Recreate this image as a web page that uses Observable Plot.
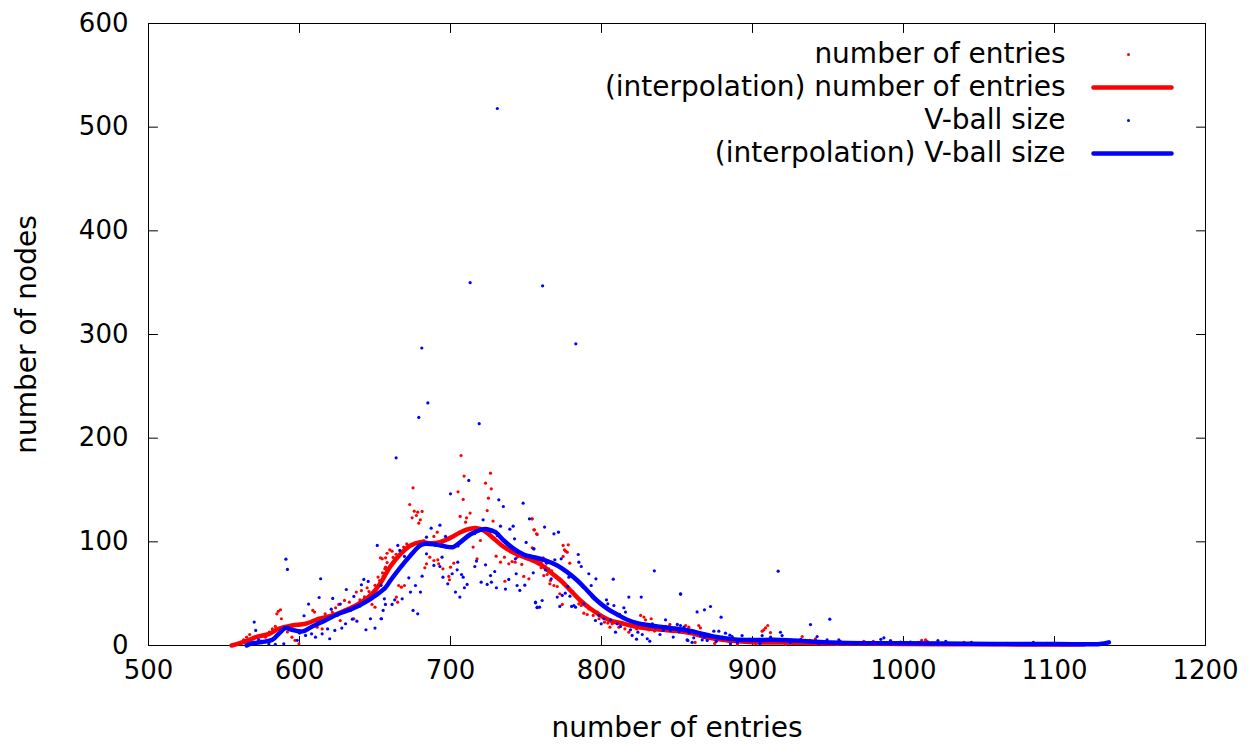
<!DOCTYPE html>
<html>
<head>
<meta charset="utf-8">
<script src="https://cdn.jsdelivr.net/npm/d3@7"></script>
<script src="https://cdn.jsdelivr.net/npm/@observablehq/plot@0.6"></script>
<style>
  html, body { margin: 0; padding: 0; background: #fff; }
  #chart { width: 1260px; height: 747px; }
</style>
</head>
<body>
<div id="chart"></div>
<script>
// ---- data ----
const xTicks = [500, 600, 700, 800, 900, 1000, 1100, 1200];
const yTicks = [0, 100, 200, 300, 400, 500, 600];
const xLabel = "number of entries";
const yLabel = "number of nodes";
const legendLabels = ["number of entries", "(interpolation) number of entries", "V-ball size", "(interpolation) V-ball size"];

// scatter: number of entries (red)
const entriesPoints = [
  [556,0.5],[558.7,1],[561,3],[563,5.5],[565,8],[567,10.6],[573,5],[577.5,8],[580,13],[582,16],
  [584,18.4],[585,30.6],[586,33],[587.4,34.5],[588,25.8],[592,13],[595,8],[597,5],[599.6,1.7],
  [608.8,33.8],[610,32.2],[617,30.6],[611.7,17.7],[615,16],[623.9,36.4],[626,39.6],[629.8,43.5],
  [633,41.8],[637.6,51.5],[641,53],[644.8,55.7],[650,37],[648,39.6],[654.8,83.6],[656.5,74],
  [653,62.7],[633.8,33.8],[636,25.8],[627,24],[621.7,32.2],
  [707,183.3],[675.2,152.1],[673,136],[676,129.6],[677.4,125.4],[678.3,128.6],[681.2,129.3],
  [674.6,123.2],[680,121.2],[679,118],[709,163.4],[705,148.2],[708.4,140.9],[726.5,166.2],
  [723.2,156.6],[727,151.1],[725.1,142.1],[724.3,130.2],[728.2,120],[713,127.7],[710.6,123.2],
  [706.4,124.5],[710,119],[754,122.2],[755.6,111.6],[757.4,107.1],[659.8,92.3],[658,89],
  [661.3,91],[657,75.6],[653.6,84.6],[665.7,57.9],[667.5,56.3],[669.5,57.9],[664.2,46.7],
  [665,41.8],[682.3,101.3],[683,75],[684.1,78.8],[686.3,85.2],[689,82],[691.6,82.6],[692.2,78.8],
  [695,74],[698.9,66.6],[699.3,63.4],[700,75.6],[702.2,79.4],[689,105.2],[691.2,109.3],
  [715,94.9],[717.6,83.6],[719.8,101.3],[730.2,86.2],[733.1,80.4],[735.7,85.2],[738.6,78.8],
  [740.8,81],[742.8,80.4],[736,62],[747.2,78.2],[748.5,66.6],[751.9,64.3],[744.1,85.2],
  [657,84.6],[655.4,66.6],[653.6,59.5],
  [754.1,122.2],[755.2,111.6],[757,107.7],[774.6,96.5],[775.5,92.3],[778,97.1],[776.2,91],
  [777.3,90],[774.6,85.9],[779,79.4],[757.9,82],[761.4,84.6],[763.6,80.4],[760,75],[765.1,74],
  [761.8,67.5],[764,68.5],[766.2,62.7],[768.5,57.9],[770.7,56.9],[772.4,49.9],[765.8,59.5],
  [774,39.6],[782.1,49.2],[785,40.2],[786.6,38.6],[788.3,31.2],[790.5,29.9],[794.5,29],
  [791.6,35.4],[797.2,32.2],[799,29.9],[798.3,25.8],[802,22.5],[804.2,21.6],[807.1,20.9],
  [805.6,17.7],[811.5,17.7],[815.5,16.1],[818.1,12.9],[823.2,16.1],[825.9,29],[828.1,27.4],
  [829.2,24.8],[831.4,15.1],[832.9,25.8],[835.1,13.9],[838.7,17.1],[842.4,18.4],[845.3,20.3],
  [848.4,17.1],[851.9,15.1],[856.3,13.9],[855.7,19.3],[754.1,94.2],
  [907.5,15.1],[908.6,17],[910.1,19.3],[906.4,13.8],[911.9,12.5],[864.4,19.3],[865.5,17],
  [857.8,17.7],[932.9,8.7],[941.7,6.5],[973.7,4.1],[1014.6,5.4],[1015.7,4.1],[895.4,4.8],
  [899.8,3.2],[918.5,3.2],[925.2,3.2],
  [862,3],[870,6],[875,2],[884,4],[890,1],[896,5],[902,2],[915,4],[922,1],[930,3],[938,5],
  [945,2],[956,1],[962,3],[970,2],[980,4],[990,1],[998,2],[1005,3],[1012,5],[1020,2],[1030,1],
  [1040,3],[1050,1],[1060,2],[1075,1],[1090,1],[1105,2],[1120,1],
  [640,44],[643,47],[646,52],[650,58],[652,66],[655,70],[658,80],[662,85],[664,88],[669,95],
  [671,98],[760,80],[763,76],[767,72],[770,66],[781,52],[784,47],[789,40],[795,33],[801,27],
  [810,22],[820,19],[838,16],[846,14],[862,11],[868,9],[876,7],[884,6]
];

// scatter: V-ball size (blue)
const vballPoints = [
  [731,518],[713,350],[761,347],[783,291],[681,287],[685,234],[679,220],[719,214],[664,181],
  [917,71.7],[835,72],
  [570,22.6],[571,14.5],[591,83.3],[592,73.4],[606,40],[603,28.7],[614,64.4],[613,46.3],
  [622,45.4],[621,35],[627,40],[631,54],[636,47.3],[641,58.6],[642.6,63.7],[645.5,61.8],
  [651.5,96.5],[648,46.7],[654,58],[598.5,5],[604,9.7],[608,11.3],[610.6,8],[615,11.3],
  [618.6,16],[620,6.5],[623.4,14.5],[628,16.8],[630.5,21],[635,25.4],[638,23.5],[644,15.2],
  [647,25.8],[650,16.8],[654,25.8],[575,3.3],[579.7,1.7],[584,1],[589.6,1.7],[573,5.5],
  [712.1,159.2],[700,146.3],[732,140.5],[735,134.1],[748.1,137.3],[752.3,122.2],[687.2,113.2],
  [693,116.1],[696.7,105.2],[721.6,121.2],[733.1,115.1],[739.3,112.2],[741.5,115.1],[742.4,102.9],
  [750.1,99.4],[755.2,93.3],[684.1,104.5],[684.1,88.4],[690,96.5],[694.4,85.2],[689,77.2],
  [693,76.2],[695,65.9],[698.2,59.5],[701.1,69.2],[704.8,80.4],[704.4,73],[707.3,68.5],
  [708.4,65.9],[711,58.9],[709.2,55.7],[703.3,51.5],[706.2,46.7],[717.2,81.4],[716.1,76.2],
  [723.2,77.8],[720.3,61.1],[724.3,58.9],[727.1,61.1],[729.3,71.4],[726.5,67.5],[730.4,55.7],
  [738.6,63.7],[736.4,54.4],[743,83.6],[744.1,57.9],[745.9,53.1],[749.2,58.2],[743.5,69.2],
  [756.3,41.2],[757.4,37],[676.8,57.9],[680.1,51.5],[675.2,33.8],[678.3,30.6],[673.5,51.5],
  [672.4,65.3],[668,45],[663.1,44.1],[661.3,39.6],[655.4,33.8],[654.3,25.8],[656.2,45],
  [656.9,39.6],[665.1,96.5],[666.4,91.7],[669.5,85.9],[681.2,66.9],
  [762.3,114.2],[768.5,107.7],[771.5,109.3],[755.2,93.3],[763.6,79.4],[762.9,73],[754.8,70.1],
  [766.7,64.3],[769.1,82.7],[773.3,83.6],[784.6,87.8],[785,80.4],[786.6,76.2],[787.9,56.3],
  [791.6,69.2],[793.2,57.9],[796.3,64.3],[778.4,65.9],[777.7,57],[776,50.5],[774,48.3],
  [770.7,46.7],[772.4,37.7],[779.1,47.6],[780.2,37.7],[781.7,38.6],[782.8,37],[756.3,41.8],
  [757.4,36.4],[759,37],[760.7,43.4],[788.3,40.2],[793.8,46.7],[795,45],[803.3,44.1],[807.8,64],
  [818.1,46.7],[826.3,46.7],[852.4,49.5],[804.2,40.2],[808.2,38.6],[814.8,36.4],[815.9,32.2],
  [796,24.1],[798.3,29],[799.8,20.9],[801.6,25.8],[806,24.8],[810.4,20.9],[812.6,18.4],
  [809.3,12.9],[819.2,15.1],[820.3,9.7],[823.2,6.1],[824.1,12.9],[827,10.6],[830.3,6.5],
  [832,4.2],[833.6,20.9],[836,17.1],[838.7,10.6],[840.9,14.5],[842.4,24.8],[845.7,14.5],
  [847.5,8.1],[850.2,20.3],[851.3,13.2],[854.6,17.7],[857.2,4.9],[858.5,12.9],
  [852.3,49.8],[863.3,32.4],[868.2,34.4],[872.2,37.6],[879.2,27.3],[938.4,20.2],[951.2,25.4],
  [987,7.4],[1022.8,4.8],[852.3,19.3],[854.5,14.4],[857.8,12.8],[861.1,7.4],[865.5,9.6],
  [866.7,5.4],[870,4.8],[874.4,13.8],[877.7,13.8],[882.1,11.9],[886.5,8.7],[893.1,9.6],
  [906.4,9.6],[918.5,12.8],[919.6,9.6],[942.8,8.7],[949.4,5.4],[957.2,5.4],[991.4,4.8],
  [998,3.2],[1004.6,3.2],[856.7,5.4],[885.4,1.6],
  [860,3],[868,8],[876,4],[885,10],[890,3],[898,6],[905,2],[912,8],[925,3],[932,6],[944,2],
  [958,4],[965,2],[975,3],[985,6],[995,2],[1010,3],[1018,1],[1028,4],[1035,2],[1045,3],
  [1055,1],[1068,2],[1080,1],[1086,3],[1095,2],[1110,1],[1125,1],
  [705,96],[710,104],[716,108],[727,110],[731,106],[745,90],[750,86],[764,82],[772,76],[780,68],
  [786,60],[792,51],[800,40],[812,30],[828,21],[845,18],[862,13],[880,8],[600,12],[612,22],
  [625,29],[640,38],[646,44]
];

// interpolation curves
const entriesCurve = [
  [555,0],[560,2],[566,5],[571,8],[580,11.3],[586,16],[595,19.3],[604,21],[613,25.8],[622,29],
  [630,33.8],[639,40.2],[648,49.9],[654,61],[660,76],[667,88.4],[673.5,96.5],[680,99.7],
  [687,98.7],[693,99.7],[700,103.9],[706.6,109.3],[713,112.6],[717.6,113.2],[722,111],
  [727.6,104.5],[734,96.5],[741,90.1],[746,86.8],[753,83],[760,78],[766,70.8],[773,62.7],
  [779.5,53.1],[786,43.4],[792.7,35.4],[799.4,29],[806,24.1],[815,20.9],[824,17.7],[832.5,16.1],
  [841,15.1],[850,13.9],[859,11.9],[870,8],[880,5.5],[890,4],[900,3.2],[920,2.8],[950,2],
  [1000,1.5],[1050,1.2],[1100,1],[1120,1.2]
];
const vballCurve = [
  [565,0],[567.6,1.7],[575,3.3],[582,5.5],[586.3,11.3],[590.7,16.8],[595,15.2],[602,13.6],
  [608.4,18.4],[617,24.2],[626,30.6],[635,35.4],[643.7,41.8],[650.4,48.3],[657,56],[660.2,62.7],
  [667,75.6],[673.5,86.8],[680,96.5],[683.4,98.1],[690,97.4],[696.7,95.5],[701.7,94.9],
  [706.6,99.7],[713,107.1],[719.8,111.6],[724.3,112.2],[729.8,109.3],[735.3,101.3],[742,93.3],
  [748.5,87.8],[755,85.2],[761.8,82.7],[770.7,77.2],[777.3,70.8],[784,62.7],[790.5,53.1],
  [797,43.4],[804,35.4],[810.4,29.9],[817,24.8],[823.7,21.6],[832.5,19.3],[841.3,17.7],
  [850,16.1],[859,14],[865,11.9],[874,8.7],[885,6.4],[896,5.4],[918,5.4],[936,4.1],[952,2.9],
  [974,2.2],[996,2.2],[1025,2],[1060,1.5],[1100,1.5],[1130,1.5],[1136,3]
];

// ---- chart ----
const RED = "#ff0000", BLUE = "#0000ff";
const tickShape = { draw(context, l) { context.moveTo(0, 0); context.lineTo(0, -l); } };
const lineShape = tickShape;
const legendRowDy = [31, 64, 97, 130];

const marks = [
  Plot.frame({stroke: "black", strokeWidth: 1}),
  // inward ticks, mirrored on all four sides
  Plot.vector(yTicks, {y: d => d, frameAnchor: "left", rotate: 90, length: 9, anchor: "start", shape: tickShape, stroke: "black", strokeWidth: 1}),
  Plot.vector(yTicks, {y: d => d, frameAnchor: "right", rotate: -90, length: 9, anchor: "start", shape: tickShape, stroke: "black", strokeWidth: 1}),
  Plot.vector(xTicks, {x: d => d, frameAnchor: "bottom", rotate: 0, length: 9, anchor: "start", shape: tickShape, stroke: "black", strokeWidth: 1}),
  Plot.vector(xTicks, {x: d => d, frameAnchor: "top", rotate: 180, length: 9, anchor: "start", shape: tickShape, stroke: "black", strokeWidth: 1}),
  Plot.axisX({ticks: xTicks, tickSize: 0, tickPadding: 15, tickFormat: "d", label: null, fontSize: 26}),
  Plot.axisY({ticks: yTicks, tickSize: 0, tickPadding: 20, tickFormat: "d", label: null, fontSize: 26}),
  Plot.text([xLabel], {frameAnchor: "bottom", dy: 83, text: d => d, fontSize: 28, textAnchor: "middle", lineAnchor: "middle"}),
  Plot.text([yLabel], {frameAnchor: "left", dx: -121, rotate: -90, text: d => d, fontSize: 28, textAnchor: "middle", lineAnchor: "middle"}),
  // data
  Plot.dot(entriesPoints, {x: d => d[0], y: d => d[1], r: 1.6, fill: RED, stroke: null}),
  Plot.line(entriesCurve, {x: d => d[0], y: d => d[1], stroke: RED, strokeWidth: 4.5, curve: "catmull-rom"}),
  Plot.dot(vballPoints, {x: d => d[0], y: d => d[1], r: 1.6, fill: BLUE, stroke: null}),
  Plot.line(vballCurve, {x: d => d[0], y: d => d[1], stroke: BLUE, strokeWidth: 4.5, curve: "catmull-rom"}),
];

// legend (inside top-right)
const legendColors = [RED, RED, BLUE, BLUE];
legendLabels.forEach((lab, i) => {
  marks.push(Plot.text([lab], {frameAnchor: "top-right", dx: -140, dy: legendRowDy[i], text: d => d, textAnchor: "end", lineAnchor: "middle", fontSize: 28}));
  if (i % 2 === 0) {
    marks.push(Plot.dot([lab], {frameAnchor: "top-right", dx: -77, dy: legendRowDy[i], r: 1.5, fill: legendColors[i], stroke: null}));
  } else {
    marks.push(Plot.vector([lab], {frameAnchor: "top-right", dx: -112, dy: legendRowDy[i], rotate: 90, length: 78, anchor: "start", shape: lineShape, stroke: legendColors[i], strokeWidth: 4.5}));
  }
});

const chart = Plot.plot({
  width: 1260,
  height: 747,
  marginLeft: 148,
  marginRight: 55,
  marginTop: 23,
  marginBottom: 102,
  style: {fontFamily: "DejaVu Sans", background: "white", color: "black", overflow: "visible"},
  x: {domain: [500, 1200]},
  y: {domain: [0, 600]},
  marks
});
document.getElementById("chart").appendChild(chart);
</script>
</body>
</html>
